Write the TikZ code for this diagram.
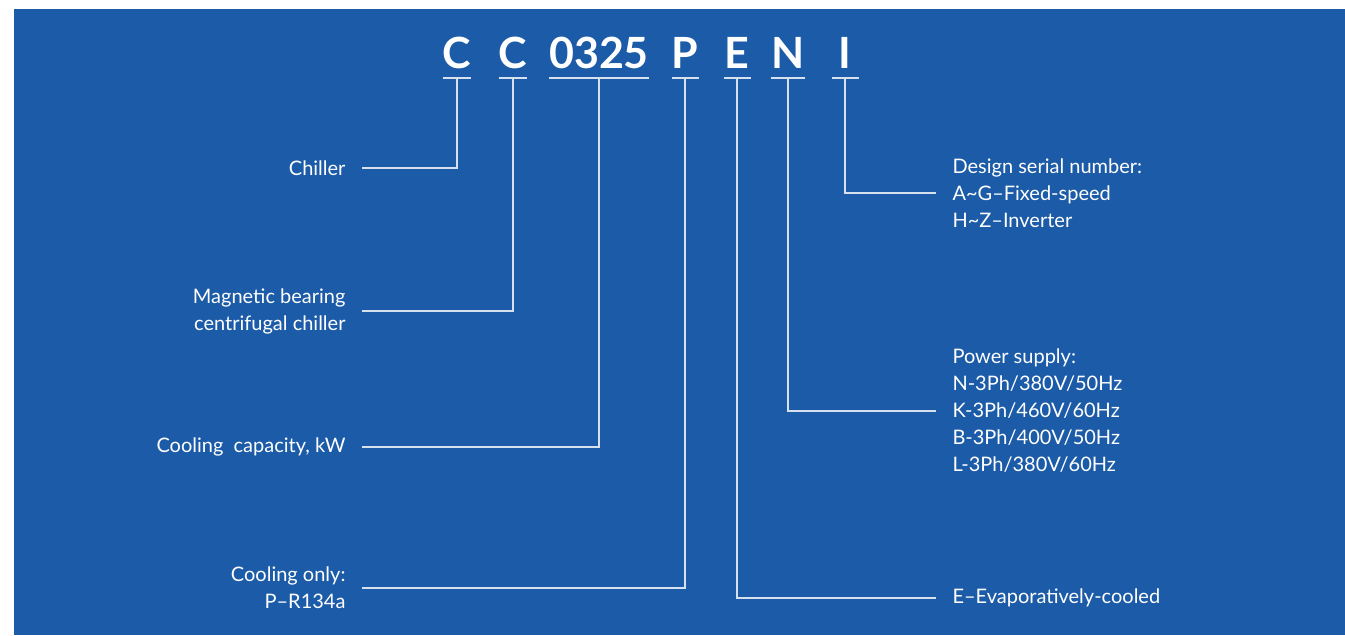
\documentclass[tikz,border=0pt]{standalone}
\usepackage{fontspec}
\setmainfont{Lato}
\usepackage{tikz}
\usetikzlibrary{positioning, calc}
\definecolor{panelblue}{RGB}{27,91,168}
\definecolor{linegray}{RGB}{214,224,238}

\begin{document}
\begin{tikzpicture}[x=1pt, y=-1pt,
  code/.style={font=\fontsize{43}{43}\selectfont\bfseries, text=white, inner xsep=0pt, inner ysep=10pt,
    outer sep=0pt, text depth=0pt, minimum width=27pt, anchor=base},
  uline/.style={draw=linegray, line width=2.4pt},
  conn/.style={draw=linegray, line width=1.3pt},
  lbl/.style={font=\fontsize{20}{27}\selectfont, text=white, inner sep=0pt, outer xsep=16.5pt}]
  % panel
  \useasboundingbox (0,0) rectangle (1345,635);
  \fill[panelblue] (14,9) rectangle (1345,635);

  % model code
  \node[code] (cC1) at (457,68) {C};
  \node[code] (cC2) at (513,68) {C};
  \node[code] (cNum) at (599,68) {0325};
  \node[code] (cP) at (685,68) {P};
  \node[code] (cE) at (737,68) {E};
  \node[code] (cN) at (788,68) {N};
  \node[code] (cI) at (845,68) {I};
  \foreach \n in {cC1,cC2,cNum,cP,cE,cN,cI}
    \draw[uline] (\n.south west) -- (\n.south east);

  % left labels
  \node[lbl, anchor=east, align=right] (chiller) at (362,168) {Chiller};
  \node[lbl, anchor=east, align=right] (bearing) at (362,311) {Magnetic bearing\\centrifugal chiller};
  \node[lbl, anchor=east, align=right] (capacity) at (362,447) {Cooling\ \ capacity, kW};
  \node[lbl, anchor=east, align=right] (cooling) at (362,588) {Cooling only:\\P--R134a};

  % right labels
  \node[lbl, anchor=west, align=left] (serial) at (936,193) {Design serial number:\\A\textasciitilde G--Fixed-speed\\H\textasciitilde Z--Inverter};
  \node[lbl, anchor=west, align=left] (power) at (936,411) {Power supply:\\N-3Ph/380V/50Hz\\K-3Ph/460V/60Hz\\B-3Ph/400V/50Hz\\L-3Ph/380V/60Hz};
  \node[lbl, anchor=west, align=left] (evap) at (936,598) {E--Evaporatively-cooled};

  % connectors
  \draw[conn] (cC1.south) |- (chiller.east);
  \draw[conn] (cC2.south) |- (bearing.east);
  \draw[conn] (cNum.south) |- (capacity.east);
  \draw[conn] (cP.south) |- (cooling.east);
  \draw[conn] (cE.south) |- (evap.west);
  \draw[conn] (cN.south) |- (power.west);
  \draw[conn] (cI.south) |- (serial.west);
\end{tikzpicture}
\end{document}
